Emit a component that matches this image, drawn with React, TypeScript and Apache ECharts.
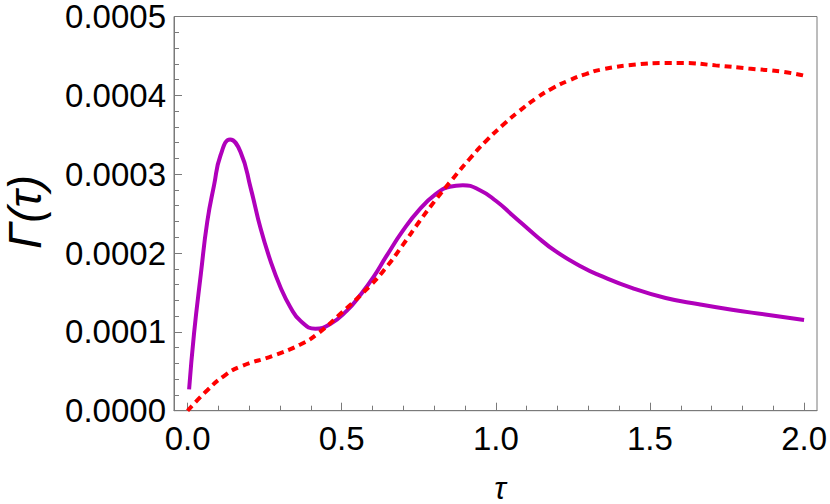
import React, { useEffect, useRef } from "react";
import * as echarts from "echarts";

// Γ(τ) values are given in units of 1e-4
const gammaUnit = 1e-4;

const purpleTau = [0.005, 0.021, 0.043, 0.064, 0.086, 0.107, 0.138, 0.172, 0.205, 0.237, 0.269, 0.302, 0.334, 0.366, 0.415, 0.463, 0.517, 0.561, 0.604, 0.645, 0.698, 0.752, 0.806, 0.85, 0.893, 0.947, 1.001, 1.054, 1.13, 1.195, 1.281, 1.335, 1.443, 1.551, 1.659, 1.766, 1.874, 2.0];
const purpleGamma = [0.27, 0.98, 1.73, 2.4, 2.86, 3.24, 3.44, 3.28, 2.82, 2.31, 1.9, 1.56, 1.31, 1.14, 1.04, 1.1, 1.27, 1.47, 1.7, 1.96, 2.28, 2.55, 2.75, 2.84, 2.86, 2.8, 2.66, 2.48, 2.22, 2.02, 1.82, 1.72, 1.555, 1.43, 1.35, 1.28, 1.22, 1.15];

const redTau = [0, 0.064, 0.118, 0.172, 0.28, 0.366, 0.42, 0.496, 0.591, 0.645, 0.698, 0.752, 0.806, 0.86, 0.914, 0.968, 1.022, 1.076, 1.13, 1.184, 1.238, 1.292, 1.346, 1.454, 1.55, 1.605, 1.713, 1.82, 1.928, 2.0];
const redGamma = [0, 0.26, 0.44, 0.56, 0.7, 0.84, 0.97, 1.23, 1.58, 1.82, 2.1, 2.4, 2.68, 2.94, 3.19, 3.42, 3.62, 3.8, 3.96, 4.09, 4.19, 4.27, 4.33, 4.39, 4.41, 4.41, 4.38, 4.34, 4.3, 4.25];

const xMajorTicks = [0, 0.5, 1.0, 1.5, 2.0];
const xMinorTicks = [0, 0.1, 0.2, 0.3, 0.4, 0.5, 0.6, 0.7, 0.8, 0.9, 1.0, 1.1, 1.2, 1.3, 1.4, 1.5, 1.6, 1.7, 1.8, 1.9, 2.0];

const xMin = -0.044;
const xMax = 2.042;
const yMin = 0;
const yMax = 0.0005;
const yInterval = 0.0001;

const FONT = "'Liberation Sans', Arial, sans-serif";
const AXIS_COLOR = "#7a7a7a";

export default function App() {
  const ref = useRef<HTMLDivElement>(null);

  useEffect(() => {
    if (!ref.current) return;
    const chart = echarts.init(ref.current, undefined, { renderer: "svg" });
    const purple = purpleTau.map((t, i) => [t, purpleGamma[i] * gammaUnit]);
    const red = redTau.map((t, i) => [t, redGamma[i] * gammaUnit]);

    chart.setOption({
      animation: false,
      backgroundColor: "#ffffff",
      grid: { left: 174, right: 11.5, top: 12.5, bottom: 93.3, show: true, borderColor: AXIS_COLOR, borderWidth: 1, backgroundColor: "transparent" },
      xAxis: [
        {
          type: "value",
          min: xMin,
          max: xMax,
          position: "bottom",
          axisLine: { show: true, onZero: false, lineStyle: { color: AXIS_COLOR, width: 1 } },
          axisTick: { show: true, inside: true, length: 5, customValues: xMinorTicks, lineStyle: { color: AXIS_COLOR } },
          axisLabel: { show: false },
          splitLine: { show: false },
        },
        {
          type: "value",
          min: xMin,
          max: xMax,
          position: "bottom",
          offset: 0,
          axisLine: { show: false },
          axisTick: { show: true, inside: true, length: 8, customValues: xMajorTicks, lineStyle: { color: AXIS_COLOR } },
          axisLabel: {
            show: true,
            customValues: xMajorTicks,
            formatter: (v: number) => v.toFixed(1),
            fontSize: 33,
            lineHeight: 26,
            fontFamily: FONT,
            color: "#000",
            margin: 15,
          },
          splitLine: { show: false },
        },
      ],
      yAxis: {
        type: "value",
        min: yMin,
        max: yMax,
        interval: yInterval,
        axisLine: { show: true, onZero: false, lineStyle: { color: AXIS_COLOR, width: 1 } },
        axisTick: { show: true, inside: true, length: 8, lineStyle: { color: AXIS_COLOR } },
        minorTick: { show: true, splitNumber: 5, length: 5, lineStyle: { color: AXIS_COLOR } },
        axisLabel: {
          formatter: (v: number) => v.toFixed(4),
          fontSize: 33,
          lineHeight: 24,
          fontFamily: FONT,
          color: "#000",
          margin: 8,
        },
        splitLine: { show: false },
        minorSplitLine: { show: false },
      },
      graphic: [
        {
          type: "text",
          x: 25,
          y: 212,
          rotation: Math.PI / 2,
          style: {
            text: "Γ(τ)",
            fontSize: 46,
            lineHeight: 40,
            fontStyle: "italic",
            fontFamily: FONT,
            fill: "#000",
            textAlign: "center",
            textVerticalAlign: "middle",
          },
        },
        {
          type: "text",
          x: 500,
          y: 488,
          style: {
            text: "τ",
            fontSize: 31,
            lineHeight: 20,
            fontStyle: "italic",
            fontFamily: FONT,
            fill: "#000",
            textAlign: "center",
            textVerticalAlign: "middle",
          },
        },
      ],
      series: [
        {
          type: "line",
          data: purple,
          xAxisIndex: 0,
          smooth: 0.5,
          showSymbol: false,
          symbol: "none",
          lineStyle: { color: "#b000bb", width: 4 },
          z: 2,
        },
        {
          type: "line",
          data: red,
          xAxisIndex: 0,
          smooth: 0.5,
          showSymbol: false,
          symbol: "none",
          lineStyle: { color: "#ff0000", width: 4, type: [7, 5] },
          z: 3,
        },
      ],
    });
    return () => chart.dispose();
  }, []);

  return (
    <div
      ref={ref}
      style={{ position: "fixed", left: 0, top: 0, width: 830, height: 504 }}
    />
  );
}
